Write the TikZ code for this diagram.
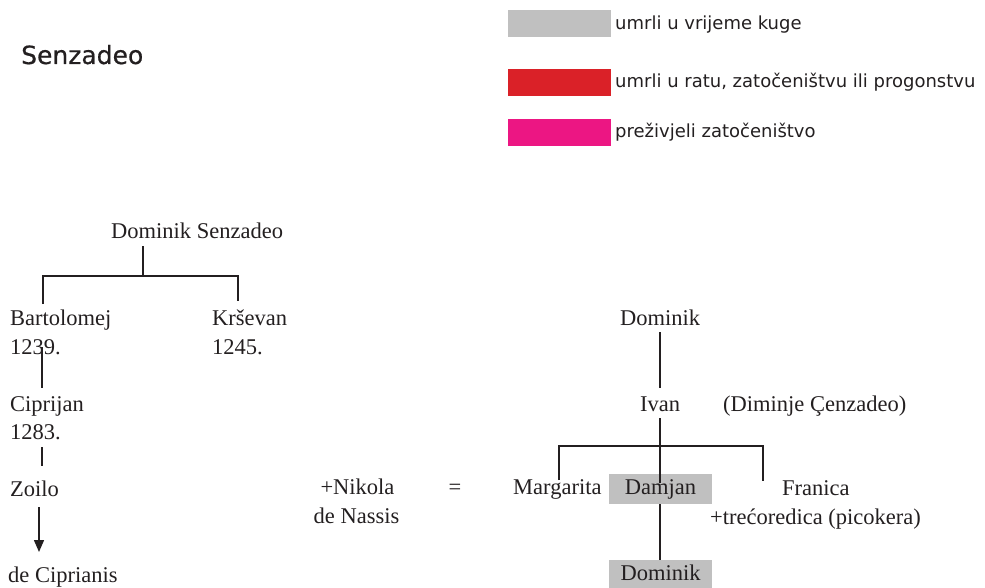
\documentclass[tikz,border=0pt]{standalone}
\usepackage{fontspec}
\setmainfont{Liberation Serif}
\newfontfamily\legfont{DejaVu Sans}
\newfontfamily\titlefont[FakeBold=0.6]{DejaVu Sans}
\usetikzlibrary{arrows.meta,calc}
\definecolor{plague}{HTML}{C0C0C0}
\definecolor{war}{HTML}{DA2128}
\definecolor{surv}{HTML}{EC1683}
\definecolor{ink}{HTML}{231F20}
\begin{document}
\begin{tikzpicture}[x=1pt,y=-1pt,
 tx/.style={font=\fontsize{22.5}{27}\selectfont, text=ink, inner sep=0pt, anchor=base west},
 txc/.style={tx, anchor=base},
 leg/.style={font=\legfont\fontsize{18}{22}\selectfont, text=ink, inner sep=0pt, anchor=base west},
 sw/.style={inner sep=0pt, minimum width=103pt, minimum height=27pt, anchor=north west},
 tie/.style={line width=1.3pt, draw=ink},
 hl/.style={font=\fontsize{22.5}{27}\selectfont, text=ink, inner sep=0pt, anchor=center, fill=plague,
   minimum width=103pt, minimum height=30pt, text height=15pt, text depth=5pt}
]
\useasboundingbox (0,0) rectangle (985,588);

% title
\node[font=\titlefont\fontsize{25}{30}\selectfont, text=ink, inner sep=0pt, anchor=base west] (title) at (21,64) {Senzadeo};

% legend
\node[sw, fill=plague] (k1) at (508,10) {};
\node[leg] (k1t) at (615,30) {umrli u vrijeme kuge};
\node[sw, fill=war] (k2) at (508,69) {};
\node[leg] (k2t) at (615,88) {umrli u ratu, zatočeništvu ili progonstvu};
\node[sw, fill=surv] (k3) at (508,119) {};
\node[leg] (k3t) at (615,138) {preživjeli zatočeništvo};

% left tree
\node[tx] (ds) at (111,238) {Dominik Senzadeo};
\node[tx] (bart) at (10,325) {Bartolomej};
\node[tx] (bartY) at (10,354) {1239.};
\node[tx] (krs) at (212,325) {Krševan};
\node[tx] (krsY) at (212,354) {1245.};
\node[tx] (cip) at (10,411) {Ciprijan};
\node[tx] (cipY) at (10,439) {1283.};
\node[tx] (zoilo) at (10,496) {Zoilo};
\node[tx] (decip) at (8,582) {de Ciprianis};

\coordinate (j1) at (143,276);
\draw[tie] ($(ds.base west)+(32,8)$) -- (j1);
\draw[tie] ($(bart.base west)+(33,-21)$) |- (j1) -| ($(krs.base west)+(26,-24)$);
\draw[tie] ($(bartY.base west)+(32,-7)$) -- ($(cip.base west)+(32,-23)$);
\draw[tie] ($(cipY.base west)+(32,8)$) -- ($(zoilo.base west)+(32,-30)$);
\draw[tie, line width=1.5pt, -{Triangle[length=12pt,width=10pt]}] ($(zoilo.base west)+(29,11)$) -- ($(decip.base west)+(31,-30)$);

% middle
\node[txc] (nik) at (357.5,494) {+Nikola};
\node[txc] (nas) at (356.5,523) {de Nassis};
\node[txc] (eq) at (455,494) {=};

% right tree
\node[txc] (dom2) at (660,325) {Dominik};
\node[txc] (ivan) at (660,411) {Ivan};
\node[tx] (dim) at (723,411) {(Diminje Çenzadeo)};
\node[tx] (marg) at (513,494) {Margarita};
\node[hl] (damjan) at (660.5,489) {Damjan};
\node[tx] (fran) at (782,495) {Franica};
\node[tx] (tre) at (710,524) {+trećoredica (picokera)};
\node[hl] (dom3) at (660.5,575) {Dominik};

\draw[tie] ($(dom2.base)+(0,7)$) -- ($(ivan.base)+(0,-23)$);
\draw[tie] ($(ivan.base)+(0,7)$) -- ($(damjan.center)+(-0.5,-6)$);
\coordinate (j2) at (660,446);
\draw[tie] ($(marg.base west)+(46,-14)$) |- (j2) -| ($(fran.base west)+(-19,-14)$);
\draw[tie] ($(damjan.south)+(-0.5,0)$) -- ($(dom3.north)+(-0.5,0)$);
\end{tikzpicture}
\end{document}
